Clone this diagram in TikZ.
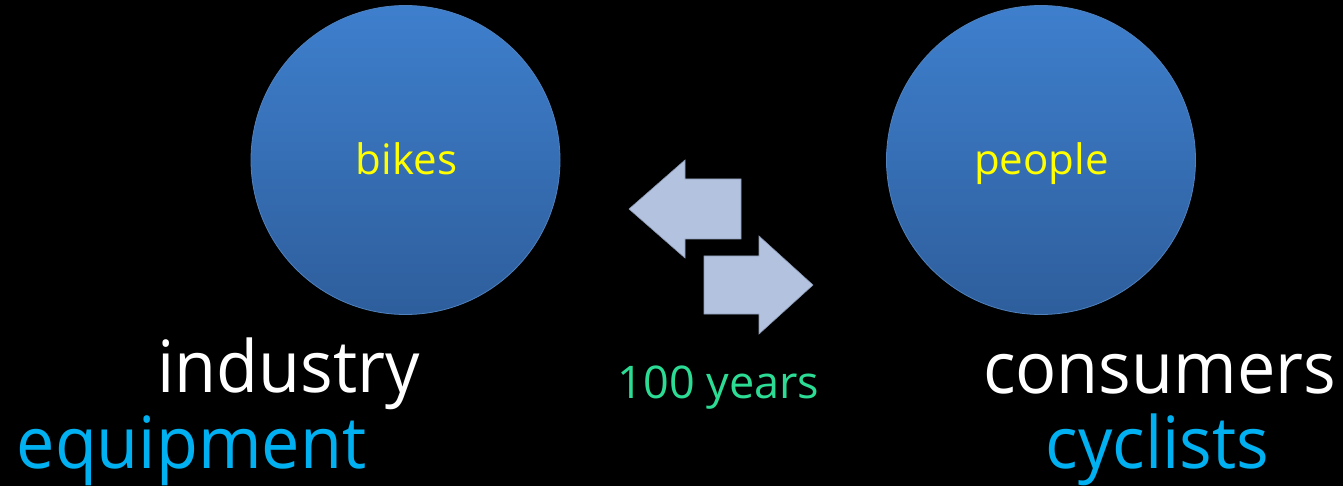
\documentclass[tikz,border=0pt]{standalone}
\usepackage{fontspec}
\setmainfont{Open Sans}
\newfontfamily\bigfont[FakeStretch=0.95]{Open Sans}
\definecolor{circtop}{HTML}{3E7FCD}
\definecolor{circbot}{HTML}{2E5E9C}
\definecolor{circedge}{HTML}{4F81BD}
\definecolor{arrfill}{HTML}{B3C3DF}
\definecolor{arredge}{HTML}{8C9AB5}
\definecolor{txtblue}{HTML}{00B0F0}
\definecolor{txtgreen}{HTML}{2CDC95}
\definecolor{txtyellow}{HTML}{FFFF00}
\tikzset{
  ball/.style={circle, minimum size=309pt, inner sep=0pt, top color=circtop, bottom color=circbot, draw=circedge, line width=0.8pt},
  balltext/.style={text=txtyellow, font=\fontsize{42}{50}\selectfont},
  bigwhite/.style={anchor=base, text=white, font=\bigfont\fontsize{72}{86}\selectfont, inner sep=0pt},
  bigblue/.style={anchor=base, text=txtblue, font=\bigfont\fontsize{72}{86}\selectfont, inner sep=0pt},
  yearstext/.style={anchor=base, text=txtgreen, font=\fontsize{45}{54}\selectfont, inner sep=0pt},
  blockarrow/.style={fill=arrfill, draw=arredge, line width=0.6pt, line join=miter}
}
\begin{document}
\begin{tikzpicture}[x=1pt,y=-1pt]
\fill[black] (0,0) rectangle (1343,486);
\useasboundingbox (0,0) rectangle (1343,486);
\node[ball] (bikes) at (405.5,160) {};
\node[ball] (people) at (1041,160) {};
\node[balltext, anchor=base, inner sep=0pt] (bikeslabel) at (406.5,175) {bikes};
\node[balltext, anchor=base, inner sep=0pt] (peoplelabel) at (1041.5,175) {people};
\draw[blockarrow] (629,209) -- (685,160) -- (685,179) -- (741,179) -- (741,239) -- (685,239) -- (685,258) -- cycle;
\draw[blockarrow] (813,285) -- (759,236) -- (759,256) -- (704,256) -- (704,314) -- (759,314) -- (759,334) -- cycle;
\node[bigwhite] (industry) at (288.5,392) {industry};
\node[bigblue] (equipment) at (191.5,468) {equipment};
\node[bigwhite] (consumers) at (1159.5,393) {consumers};
\node[bigblue] (cyclists) at (1157.5,468) {cyclists};
\node[yearstext] (years) at (718.5,398) {100 years};
\end{tikzpicture}
\end{document}
